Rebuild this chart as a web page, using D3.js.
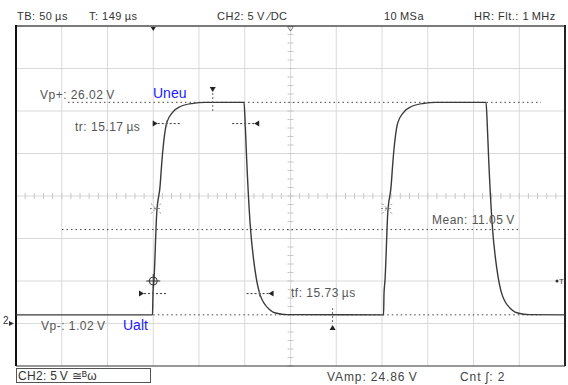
<!DOCTYPE html>
<html><head><meta charset="utf-8">
<script src="https://cdn.jsdelivr.net/npm/d3@7"></script>
<style>
body{margin:0;background:#fff;}
svg{display:block;font-family:"Liberation Sans",Arial,sans-serif;}
</style></head>
<body><svg id="c" width="568" height="385"></svg>
<script>
// ---- data ----
const timeDomain = [0, 600];          // µs across the screen (12 div × 50 µs)
const voltDomain = [-5, 35];          // V (8 div × 5 V)
const headerLabels = ["TB: 50\u2009\u00b5s", "T: 149\u2009\u00b5s", "CH2: 5\u2009V \u2044DC", "10\u2009MSa", "HR: Flt.: 1\u2009MHz"];
const headerX = [17, 89, 217, 384, 474];
const footerLabels = ["VAmp: 24.86\u2009V", "Cnt \u0283: 2"];
const footerX = [327, 460];
const traceTime = [0, 149.2, 149.7, 150.8, 153.8, 157.4, 159.6, 164.7, 171.6, 179.2, 193.4, 206.6,
  249.2, 250.3, 252.1, 255.7, 261.2, 266.7, 277.6, 284.9, 296.2,
  401.7, 402.2, 403.3, 406.3, 409.9, 412.1, 417.2, 424.1, 431.7, 445.9, 459.1,
  513.7, 514.8, 516.6, 520.2, 525.7, 531.2, 542.1, 549.4, 560.7, 600];
const traceVolt = [1.02, 1.02, 3.5, 5.1, 13.0, 16.1, 19.3, 23.6, 24.9, 25.5, 25.9, 26.02,
  26.02, 24.0, 19.3, 12.0, 6.3, 3.4, 1.6, 1.2, 1.05,
  1.02, 3.5, 5.1, 13.0, 16.1, 19.3, 23.6, 24.9, 25.5, 25.9, 26.02,
  26.02, 24.0, 19.3, 12.0, 6.3, 3.4, 1.6, 1.2, 1.05, 1.02];
const vpPlus = 26.02, vpMinus = 1.02, meanV = 11.05, trigLevel = 5.0, trigTime = 150;
const riseTimes = [149.7, 164.7], fallTimes = [250.5, 266.2];  // 10%/90% crossings
const fiftyTimes = [153.0, 405.5];
const peakTimes = [215, 346];

// ---- layout ----
const svg = d3.select("#c");
const L = 16, R = 565, T = 26, B = 366;
const x = d3.scaleLinear().domain(timeDomain).range([L, R]);
const y = d3.scaleLinear().domain(voltDomain).range([B, T]);
const grid = svg.append("g");
d3.range(50, 600, 50).forEach(t => grid.append("line").attr("x1", x(t)).attr("x2", x(t)).attr("y1", T).attr("y2", B).attr("stroke", "#d9d9d9"));
d3.range(0, 35, 5).forEach(v => grid.append("line").attr("y1", y(v)).attr("y2", y(v)).attr("x1", L).attr("x2", R).attr("stroke", "#d9d9d9"));
// minor ticks on centre lines
d3.range(0, 600.1, 10).forEach(t => grid.append("line").attr("x1", x(t)).attr("x2", x(t)).attr("y1", y(15) - 3).attr("y2", y(15) + 3).attr("stroke", "#c8c8c8"));
d3.range(-5, 35.1, 1).forEach(v => grid.append("line").attr("y1", y(v)).attr("y2", y(v)).attr("x1", x(300) - 3).attr("x2", x(300) + 3).attr("stroke", "#c8c8c8"));
// frame
svg.append("line").attr("x1", L).attr("x2", R).attr("y1", T).attr("y2", T).attr("stroke", "#7a7a7a").attr("stroke-width", 2);
svg.append("line").attr("x1", L).attr("x2", R).attr("y1", B).attr("y2", B).attr("stroke", "#333").attr("stroke-width", 1);
svg.append("line").attr("x1", L).attr("x2", L).attr("y1", T - 1).attr("y2", B).attr("stroke", "#111").attr("stroke-width", 2);
svg.append("line").attr("x1", R).attr("x2", R).attr("y1", T - 1).attr("y2", B).attr("stroke", "#222").attr("stroke-width", 2);

// dotted cursor lines
const dot = (x1, x2, v) => svg.append("line").attr("x1", x1).attr("x2", x2).attr("y1", y(v)).attr("y2", y(v))
  .attr("stroke", "#444").attr("stroke-dasharray", "1.5,3");
dot(68, 541, vpPlus);
dot(62, 520, meanV);
dot(x(150), 541, vpMinus);

// trace
const line = d3.line().x((d, i) => x(traceTime[i])).y((d, i) => y(traceVolt[i])).curve(d3.curveMonotoneX);
svg.append("path").datum(traceTime).attr("d", line).attr("fill", "none").attr("stroke", "#3a3a3a").attr("stroke-width", 1.4);

// text helper
const txt = (s, tx, ty, o = {}) => svg.append("text").attr("x", tx).attr("y", ty).text(s)
  .attr("font-size", o.size || 12).attr("fill", o.fill || "#555").attr("letter-spacing", o.ls == null ? 0.5 : o.ls)
  .attr("text-anchor", o.anchor || "start");
headerLabels.forEach((s, i) => txt(s, headerX[i], 20, { fill: "#333", size: 11, ls: 0.5 }));
footerLabels.forEach((s, i) => txt(s, footerX[i], 381, { fill: "#444", size: 12, ls: 0.9 }));
svg.append("rect").attr("x", 16.5).attr("y", 368.5).attr("width", 134).attr("height", 14).attr("fill", "none").attr("stroke", "#555");
txt("CH2: 5\u2009V \u2245\u1d2e\u03c9", 18, 380, { fill: "#333", size: 12, ls: 0.3 });

txt("Vp+: 26.02\u2009V", 40, 99);
txt("Uneu", 153, 98, { fill: "#1a1aff", size: 14, ls: 0 });
txt("tr: 15.17\u2009\u00b5s", 75, 131);
txt("Mean: 11.05\u2009V", 432, 224);
txt("tf: 15.73\u2009\u00b5s", 291, 297);
txt("Vp-: 1.02\u2009V", 41, 330);
txt("Ualt", 123, 330, { fill: "#1a1aff", size: 14, ls: 0 });

// tr / tf markers
const arrowMark = (t, v, dir) => {
  const cx = x(t), cy = y(v);
  svg.append("line").attr("x1", cx - 13).attr("x2", cx + 13).attr("y1", cy).attr("y2", cy).attr("stroke", "#333").attr("stroke-dasharray", "2,2");
  svg.append("line").attr("x1", cx).attr("x2", cx).attr("y1", cy - 3).attr("y2", cy + 3).attr("stroke", "#666");
  const ax = dir > 0 ? cx - 14 : cx + 14;
  svg.append("path").attr("d", `M${ax},${cy - 3}L${ax + 5 * dir},${cy}L${ax},${cy + 3}Z`).attr("fill", "#222");
};
arrowMark(riseTimes[1], 23.52, 1);
arrowMark(riseTimes[0], 3.52, 1);
arrowMark(fallTimes[0], 23.52, -1);
arrowMark(fallTimes[1], 3.52, -1);

// 50% star markers
fiftyTimes.forEach(t => {
  const cx = x(t), cy = y(13.52);
  [[-5, -5, 5, 5], [-5, 5, 5, -5], [-6, 0, 6, 0]].forEach(d => svg.append("line")
    .attr("x1", cx + d[0]).attr("y1", cy + d[1]).attr("x2", cx + d[2]).attr("y2", cy + d[3])
    .attr("stroke", "#777").attr("stroke-dasharray", "2,2").attr("stroke-width", 0.9));
});
// trigger point
svg.append("circle").attr("cx", x(trigTime)).attr("cy", y(trigLevel)).attr("r", 4).attr("fill", "none").attr("stroke", "#333");
svg.append("line").attr("x1", x(trigTime) - 7).attr("x2", x(trigTime) + 7).attr("y1", y(trigLevel)).attr("y2", y(trigLevel)).attr("stroke", "#333");
svg.append("line").attr("x1", x(trigTime)).attr("x2", x(trigTime)).attr("y1", y(trigLevel) - 7).attr("y2", y(trigLevel) + 7).attr("stroke", "#333");

// peak markers
svg.append("path").attr("d", `M${x(peakTimes[0]) - 3},${87}L${x(peakTimes[0]) + 3},${87}L${x(peakTimes[0])},${92}Z`).attr("fill", "#222");
svg.append("line").attr("x1", x(peakTimes[0])).attr("x2", x(peakTimes[0])).attr("y1", 93).attr("y2", 111).attr("stroke", "#666").attr("stroke-dasharray", "2,2");
svg.append("path").attr("d", `M${x(peakTimes[1]) - 3},${330}L${x(peakTimes[1]) + 3},${330}L${x(peakTimes[1])},${325}Z`).attr("fill", "#222");
svg.append("line").attr("x1", x(peakTimes[1])).attr("x2", x(peakTimes[1])).attr("y1", 308).attr("y2", 324).attr("stroke", "#666").attr("stroke-dasharray", "2,2");

// top markers
svg.append("path").attr("d", `M${x(trigTime) - 2.5},27L${x(trigTime) + 2.5},27L${x(trigTime)},31Z`).attr("fill", "#222");
svg.append("path").attr("d", `M${x(300) - 3},26.5L${x(300) + 3},26.5L${x(300)},31Z`).attr("fill", "none").attr("stroke", "#555").attr("stroke-width", 0.8);
// ground marker
txt("2", 3, 324, { fill: "#333", size: 10, ls: 0 });
svg.append("path").attr("d", `M9,${y(0) - 2.5}L14,${y(0)}L9,${y(0) + 2.5}Z`).attr("fill", "#333");
// trigger level marker at right
svg.append("circle").attr("cx", 557).attr("cy", y(trigLevel)).attr("r", 1.5).attr("fill", "#333");
txt("T", 559, y(trigLevel) + 3, { fill: "#333", size: 8, ls: 0 });
</script></body></html>
